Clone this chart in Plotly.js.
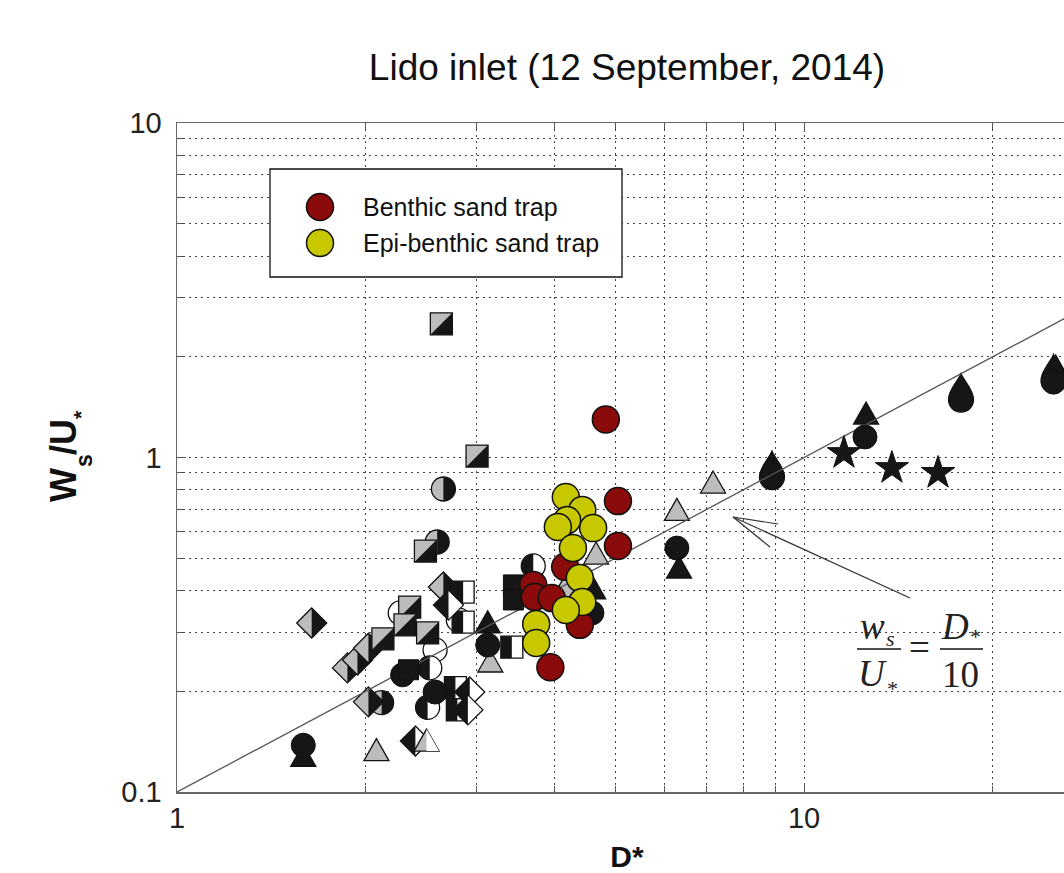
<!DOCTYPE html>
<html><head><meta charset="utf-8">
<script src="https://cdn.plot.ly/plotly-3.0.1.min.js"></script>
<style>html,body{margin:0;padding:0;overflow:hidden;background:#fff}</style>
</head><body><div id="chart" style="width:1090px;height:873px"></div>
<script>
// ---------------- data ----------------
const benthicX = [4.83, 5.05, 5.05, 4.16, 3.70, 3.72, 3.96, 4.39, 3.94];
const benthicY = [1.30, 0.741, 0.544, 0.471, 0.416, 0.383, 0.380, 0.316, 0.236];
const epiX = [4.17, 4.43, 4.19, 4.05, 4.61, 4.28, 4.39, 4.43, 4.17, 3.74, 3.74];
const epiY = [0.762, 0.697, 0.650, 0.620, 0.615, 0.536, 0.436, 0.370, 0.350, 0.318, 0.279];

// literature data (split / open / solid symbols)
const sqGrayBlackX = [2.64, 3.01, 2.49, 2.35, 2.31, 2.51, 2.13];
const sqGrayBlackY = [2.51, 1.01, 0.525, 0.357, 0.316, 0.299, 0.287];
const ciGrayBlackX = [2.66, 2.60, 2.12];
const ciGrayBlackY = [0.805, 0.559, 0.185];
const ciBlackWhiteX = [3.70, 2.53, 2.51];
const ciBlackWhiteY = [0.474, 0.235, 0.179];
const ciOpenX = [2.27, 2.81, 2.58];
const ciOpenY = [0.343, 0.327, 0.266];
const diGrayBlackX = [1.64, 1.87, 1.94, 2.02, 2.02, 2.66];
const diGrayBlackY = [0.320, 0.235, 0.248, 0.269, 0.186, 0.410];
const diBlackWhiteX = [2.40, 2.93, 2.91, 2.71];
const diBlackWhiteY = [0.142, 0.199, 0.176, 0.362];
const sqBlackWhiteX = [2.78, 2.80, 2.86, 2.86, 3.42];
const sqBlackWhiteY = [0.205, 0.176, 0.396, 0.322, 0.271];
const triGrayWhiteX = [2.50];
const triGrayWhiteY = [0.141];
const triGrayX = [2.08, 6.27, 7.16, 3.16, 4.66, 4.16];
const triGrayY = [0.132, 0.690, 0.833, 0.243, 0.511, 0.407];
const triBlackX = [1.59, 6.32, 12.56, 25.2, 3.13, 4.61];
const triBlackY = [0.127, 0.464, 1.34, 1.85, 0.318, 0.402];
const dropX = [8.89, 17.8, 25.0];
const dropY = [0.874, 1.49, 1.70];
const ciBlackX = [1.59, 6.27, 12.51, 2.29, 2.58, 3.13, 4.59, 25.0];
const ciBlackY = [0.138, 0.536, 1.152, 0.224, 0.199, 0.275, 0.343, 1.68];
const sqBlackX = [3.44, 3.44, 2.34];
const sqBlackY = [0.416, 0.375, 0.232];
const starX = [11.58, 13.81, 16.36];
const starY = [1.031, 0.930, 0.899];

// reference line ws/U* = D*/10
const refX = [1, 30];
const refY = [0.1, 3];

// axis ticks
const xTickVals = [1, 10, 100];
const xTickText = ['1', '10', '100'];
const xMinorVals = [2,3,4,5,6,7,8,9,20,30,40,50,60,70,80,90];
const yTickVals = [0.1, 1, 10];
const yTickText = ['0.1', '1', '10'];
const yMinorVals = [0.2,0.3,0.4,0.5,0.6,0.7,0.8,0.9,2,3,4,5,6,7,8,9];

// ---------------- styling ----------------
const RED = '#8b0a0a', YEL = '#c8c800', GRAY = '#bcbcbc', BLK = '#161616', OUT = '#111';
const SANS = 'Liberation Sans, Arial, sans-serif';
const SERIF = 'Liberation Serif, Times New Roman, serif';
const L = 177, T = 123, PW = 900, PH = 669;
const pxX = p => (p - L) / PW;
const pxY = p => (T + PH - p) / PH;

const f = v => (+v).toFixed(2);
function circleFull(r){const k=0.5523*r;return `M${f(r)},0 C${f(r)},${f(k)} ${f(k)},${f(r)} 0,${f(r)} C${f(-k)},${f(r)} ${f(-r)},${f(k)} ${f(-r)},0 C${f(-r)},${f(-k)} ${f(-k)},${f(-r)} 0,${f(-r)} C${f(k)},${f(-r)} ${f(r)},${f(-k)} ${f(r)},0 Z`;}
function circleRight(r){const k=0.5523*r;return `M0,${f(r)} C${f(k)},${f(r)} ${f(r)},${f(k)} ${f(r)},0 C${f(r)},${f(-k)} ${f(k)},${f(-r)} 0,${f(-r)} Z`;}
function circleLeft(r){const k=0.5523*r;return `M0,${f(r)} C${f(-k)},${f(r)} ${f(-r)},${f(k)} ${f(-r)},0 C${f(-r)},${f(-k)} ${f(-k)},${f(-r)} 0,${f(-r)} Z`;}
const sqFull = s => `M${-s},${-s} H${s} V${s} H${-s} Z`;
const sqLR = s => `M${-s},${-s} L${s},${-s} L${s},${s} Z`;
const sqLeft = s => `M${-s},${-s} H0 V${s} H${-s} Z`;
const diFull = d => `M0,${d} L${d},0 L0,${-d} L${-d},0 Z`;
const diRight = d => `M0,${d} L${d},0 L0,${-d} Z`;
const diLeft = d => `M0,${d} L${-d},0 L0,${-d} Z`;
const triFull = 'M0,13 L12.5,-9 L-12.5,-9 Z';
const triRight = 'M0,13 L12.5,-9 L0,-9 Z';
const dropPath = 'M0,26 C3,18 12.5,10 12.5,0 C12.5,-7 7,-12.5 0,-12.5 C-7,-12.5 -12.5,-7 -12.5,0 C-12.5,10 -3,18 0,26 Z';

const shapes = [];
function mk(path, fill, xv, yv, lw){
  shapes.push({type:'path', layer:'between', xref:'x', yref:'y', xsizemode:'pixel', ysizemode:'pixel',
    xanchor:xv, yanchor:yv, path:path, fillcolor:fill, line:{color:OUT, width:lw}});
}
function split(full, half, c1, c2, xs, ys){
  xs.forEach((xv,i)=>{ mk(full, c1, xv, ys[i], 1.3); if(half) mk(half, c2, xv, ys[i], 0); });
}
split(triFull, null, GRAY, null, triGrayX, triGrayY);
split(triFull, null, BLK, null, triBlackX, triBlackY);
split(dropPath, null, BLK, null, dropX, dropY);
split(circleFull(12), circleRight(12), GRAY, BLK, ciGrayBlackX, ciGrayBlackY);
split(circleFull(12), null, '#ffffff', null, ciOpenX, ciOpenY);
split(diFull(15), diRight(15), GRAY, BLK, diGrayBlackX, diGrayBlackY);
split(sqFull(11), sqLeft(11), '#ffffff', BLK, sqBlackWhiteX, sqBlackWhiteY);
split(sqFull(11), sqLR(11), GRAY, BLK, sqGrayBlackX, sqGrayBlackY);
split(circleFull(12), circleLeft(12), '#ffffff', BLK, ciBlackWhiteX, ciBlackWhiteY);
split(diFull(15), diLeft(15), '#ffffff', BLK, diBlackWhiteX, diBlackWhiteY);
split(triFull, triRight, GRAY, '#ffffff', triGrayWhiteX, triGrayWhiteY);

// arrow pointing at the line
const arrow = [[910,598,733,517],[733,517,778,524],[733,517,770,547]];
arrow.forEach(a=>shapes.push({type:'line', xref:'paper', yref:'paper', layer:'above',
  x0:pxX(a[0]), y0:pxY(a[1]), x1:pxX(a[2]), y1:pxY(a[3]), line:{color:'#333', width:1.2}}));
// fraction bars of the formula
[[857,901],[940,983]].forEach(b=>shapes.push({type:'line', xref:'paper', yref:'paper', layer:'above',
  x0:pxX(b[0]), x1:pxX(b[1]), y0:pxY(649), y1:pxY(649), line:{color:'#111', width:1.5}}));

// custom legend box
shapes.push({type:'rect', xref:'paper', yref:'paper', layer:'above', x0:pxX(270), x1:pxX(622), y0:pxY(277), y1:pxY(169),
  fillcolor:'#ffffff', line:{color:'#111', width:1.3}});
[[207,RED],[243,YEL]].forEach(c=>shapes.push({type:'circle', xref:'paper', yref:'paper', layer:'above',
  xsizemode:'pixel', ysizemode:'pixel', xanchor:pxX(320), yanchor:pxY(c[0]), x0:-13.5, x1:13.5, y0:-13.5, y1:13.5,
  fillcolor:c[1], line:{color:OUT, width:1.5}}));

const annotations = [
  {text:'Benthic sand trap', x:pxX(361), y:pxY(207)},
  {text:'Epi-benthic sand trap', x:pxX(361), y:pxY(243)}
].map(a=>Object.assign({xref:'paper', yref:'paper', xanchor:'left', yanchor:'middle', showarrow:false,
  font:{family:SANS, size:25, color:'#111'}}, a));
// formula ws/U* = D*/10 (pieces with manual subscripts)
[
  ['<i>w</i>', 872, 626, 37],
  ['<i>s</i>', 890, 638, 22],
  ['<i>U</i>', 872, 673, 37],
  ['<i>*</i>', 891, 688, 22],
  ['=', 919, 647, 37],
  ['<i>D</i>', 955, 626, 37],
  ['<i>*</i>', 974, 636, 22],
  ['10', 960, 674, 37]
].forEach(t=>annotations.push({text:t[0], x:pxX(t[1]), y:pxY(t[2]), xref:'paper', yref:'paper',
  xanchor:'center', yanchor:'middle', showarrow:false, font:{family:SERIF, size:t[3], color:'#222'}}));
// y-axis title Ws/U* (rotated pieces with manual subscripts)
[
  ['<b>W</b>', 64, 485, 36],
  ['<b>s</b>', 84, 461, 23],
  ['<b>/U</b>', 64, 437, 36],
  ['<b>*</b>', 80, 415, 21]
].forEach(t=>annotations.push({text:t[0], x:pxX(t[1]), y:pxY(t[2]), xref:'paper', yref:'paper', textangle:-90,
  xanchor:'center', yanchor:'middle', showarrow:false, font:{family:SANS, size:t[3], color:'#111'}}));

const traces = [
  {x:refX, y:refY, mode:'lines', line:{color:'#555', width:1.3}, hoverinfo:'skip'},
  {x:ciBlackX, y:ciBlackY, mode:'markers', marker:{symbol:'circle', size:24, color:BLK, line:{color:OUT, width:1}}},
  {x:sqBlackX, y:sqBlackY, mode:'markers', marker:{symbol:'square', size:20, color:BLK, line:{color:OUT, width:1}}},
  {x:starX, y:starY, mode:'markers', marker:{symbol:'star', size:25, color:BLK, line:{color:OUT, width:1}}},
  {x:benthicX, y:benthicY, mode:'markers', name:'Benthic sand trap', marker:{symbol:'circle', size:27, color:RED, line:{color:OUT, width:1.5}}},
  {x:epiX, y:epiY, mode:'markers', name:'Epi-benthic sand trap', marker:{symbol:'circle', size:27, color:YEL, line:{color:OUT, width:1.5}}}
];

const gridStyle = {gridcolor:'#444', gridwidth:1, griddash:'2px,4px'};
const axisCommon = Object.assign({type:'log', tickmode:'array', ticks:'inside', ticklen:9, tickcolor:'#555', tickwidth:1,
  showline:true, linecolor:'#666', linewidth:1.5, mirror:'ticks', showgrid:true, zeroline:false,
  tickfont:{family:SANS, size:29, color:'#222'}}, gridStyle);

const layout = {
  width:1090, height:873, margin:{l:L, r:1090-L-PW, t:T, b:873-T-PH}, showlegend:false,
  paper_bgcolor:'#fff', plot_bgcolor:'#fff',
  title:{text:'Lido inlet (12 September, 2014)', font:{family:SANS, size:37, color:'#111'},
    xref:'paper', x:0.5, xanchor:'center', yref:'container', y:1-67/873, yanchor:'middle'},
  xaxis:Object.assign({}, axisCommon, {range:[0, PW/627], tickvals:xTickVals, ticktext:xTickText, ticklabelstandoff:0,
    minor:Object.assign({tickmode:'array', tickvals:xMinorVals, ticks:'inside', ticklen:6, tickcolor:'#555', showgrid:true}, gridStyle),
    title:{text:'<b>D*</b>', font:{family:SANS, size:30, color:'#111'}, standoff:13}}),
  yaxis:Object.assign({}, axisCommon, {range:[-1, 1], tickvals:yTickVals, ticktext:yTickText, ticklabelstandoff:8,
    minor:Object.assign({tickmode:'array', tickvals:yMinorVals, ticks:'inside', ticklen:6, tickcolor:'#555', showgrid:true}, gridStyle)}),
  shapes:shapes, annotations:annotations
};
Plotly.newPlot('chart', traces, layout, {displayModeBar:false, staticPlot:true});
</script></body></html>
